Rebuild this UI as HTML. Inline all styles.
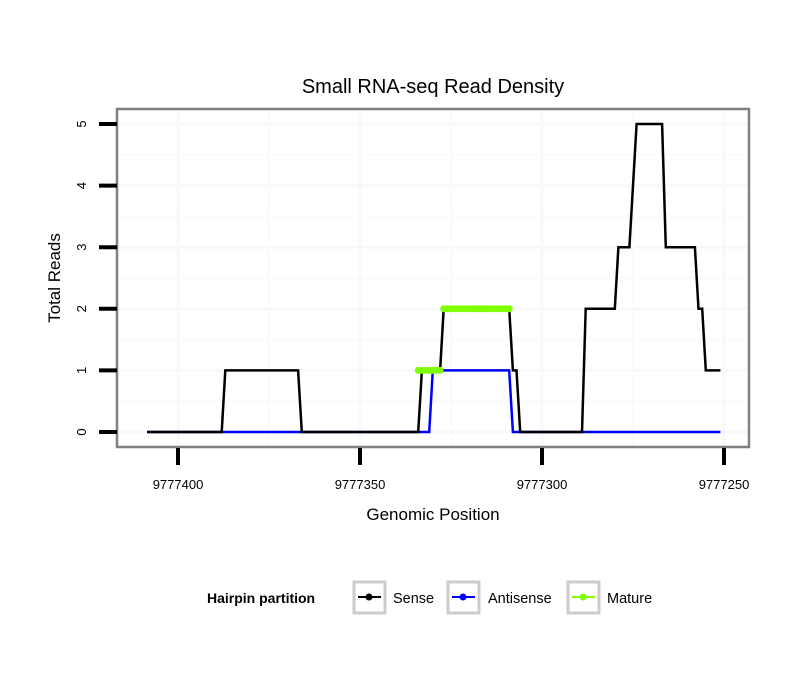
<!DOCTYPE html>
<html><head><meta charset="utf-8"><style>
body{margin:0;background:#fff;font-family:"Liberation Sans",sans-serif}
</style></head><body>
<svg id="chart" width="810" height="690" xmlns="http://www.w3.org/2000/svg" font-family="Liberation Sans, sans-serif">
<rect width="810" height="690" fill="#fff"/>
<text x="433" y="93" font-size="20" text-anchor="middle">Small RNA-seq Read Density</text>
<g id="grid"></g>
<g id="series"></g>
<rect x="117" y="109" width="632" height="338" fill="none" stroke="#808080" stroke-width="2.5"/>
<g id="axes"></g>
<text x="433" y="520" font-size="17" text-anchor="middle">Genomic Position</text>
<text transform="translate(60,278) rotate(-90)" font-size="17" text-anchor="middle">Total Reads</text>
<g>
<text x="207" y="603" font-size="14" font-weight="bold">Hairpin partition</text>
<g>
<rect x="354" y="582" width="31" height="31" fill="#fff" stroke="#ccc" stroke-width="3"/>
<line x1="358" y1="597" x2="381" y2="597" stroke="#000" stroke-width="2"/><circle cx="369" cy="597" r="3.5" fill="#000"/>
<text x="393" y="603" font-size="14.5">Sense</text></g>
<g>
<rect x="448" y="582" width="31" height="31" fill="#fff" stroke="#ccc" stroke-width="3"/>
<line x1="452" y1="597" x2="475" y2="597" stroke="#00f" stroke-width="2"/><circle cx="463" cy="597" r="3.5" fill="#00f"/>
<text x="488" y="603" font-size="14.5">Antisense</text></g>
<g>
<rect x="568" y="582" width="31" height="31" fill="#fff" stroke="#ccc" stroke-width="3"/>
<line x1="572" y1="597" x2="595" y2="597" stroke="#7fff00" stroke-width="2"/><circle cx="583" cy="597" r="3.5" fill="#7fff00"/>
<text x="607" y="603" font-size="14.5">Mature</text></g>
</g>
</svg>
<script>
const senseX=[9777408.5,9777388,9777387,9777367,9777366,9777334,9777333,9777328,9777327,9777309,9777308,9777307,9777306,9777289,9777288,9777280,9777279,9777276,9777274,9777267,9777266,9777258,9777257,9777256,9777255,9777251];
const senseY=[0,0,1,1,0,0,1,1,2,2,1,1,0,0,2,2,3,3,5,5,3,3,2,2,1,1];
const antiX=[9777408.5,9777331,9777330,9777309,9777308,9777251];
const antiY=[0,0,1,1,0,0];
const matureX=[9777334,9777333,9777332,9777331,9777330,9777329,9777328,9777327,9777326,9777325,9777324,9777323,9777322,9777321,9777320,9777319,9777318,9777317,9777316,9777315,9777314,9777313,9777312,9777311,9777310,9777309];
const matureY=[1,1,1,1,1,1,1,2,2,2,2,2,2,2,2,2,2,2,2,2,2,2,2,2,2,2];
const xTicks=[9777400,9777350,9777300,9777250];
const yTicks=[0,1,2,3,4,5];
const NS="http://www.w3.org/2000/svg";
function sx(p){return 178+(9777400-p)*3.64;}
function sy(v){return 432-v*61.6;}
function mk(t,a,parent){const e=document.createElementNS(NS,t);for(const k in a)e.setAttribute(k,a[k]);parent.appendChild(e);return e;}
const grid=document.getElementById('grid'),ser=document.getElementById('series'),ax=document.getElementById('axes');
for(let v=-0.5;v<=5.5;v+=0.5){const y=sy(v);if(y<110||y>446)continue;
 const l=mk('line',{x1:118,x2:748,y1:y,y2:y,stroke:v%1===0?'#f8f8f8':'#fbfbfb','stroke-width':v%1===0?3:2},grid);
 
 }
for(let p=9777400;p>=9777250;p-=25){const x=sx(p);
 const l=mk('line',{x1:x,x2:x,y1:110,y2:446,stroke:p%50===0?'#f8f8f8':'#fbfbfb','stroke-width':p%50===0?3:2},grid);
 
 }
function path(xs,ys){return xs.map((p,i)=>(i?'L':'M')+sx(p).toFixed(1)+','+sy(ys[i]).toFixed(1)).join('');}
const anti=mk('path',{d:path(antiX,antiY),fill:'none',stroke:'#00f','stroke-width':2.5},ser);


const sense=mk('path',{d:path(senseX,senseY),fill:'none',stroke:'#000','stroke-width':2.5},ser);


const g1=matureX.filter((p,i)=>matureY[i]===1),g2=matureX.filter((p,i)=>matureY[i]===2);
[[g1,1],[g2,2]].forEach(([g,v])=>{
 const l=mk('line',{x1:sx(g[0]),x2:sx(g[g.length-1]),y1:sy(v),y2:sy(v),stroke:'#7fff00','stroke-width':6},ser);
 
 });
matureX.forEach((p,i)=>{const c=mk('circle',{cx:sx(p),cy:sy(matureY[i]),r:3.5,fill:'#7fff00'},ser);
 
 });
yTicks.forEach(v=>{const y=sy(v);
 const t=mk('line',{x1:99,x2:117,y1:y,y2:y,stroke:'#000','stroke-width':4},ax);
 
 
 const tx=mk('text',{transform:`translate(86,${y}) rotate(-90)`,'font-size':13,'text-anchor':'middle'},ax);
 tx.textContent=v;
 
 });
xTicks.forEach(p=>{const x=sx(p);
 const t=mk('line',{x1:x,x2:x,y1:448,y2:465,stroke:'#000','stroke-width':4},ax);
 
 
 const tx=mk('text',{x:x,y:489,'font-size':13,'text-anchor':'middle'},ax);
 tx.textContent=p;
 
 });
</script>
</body></html>
